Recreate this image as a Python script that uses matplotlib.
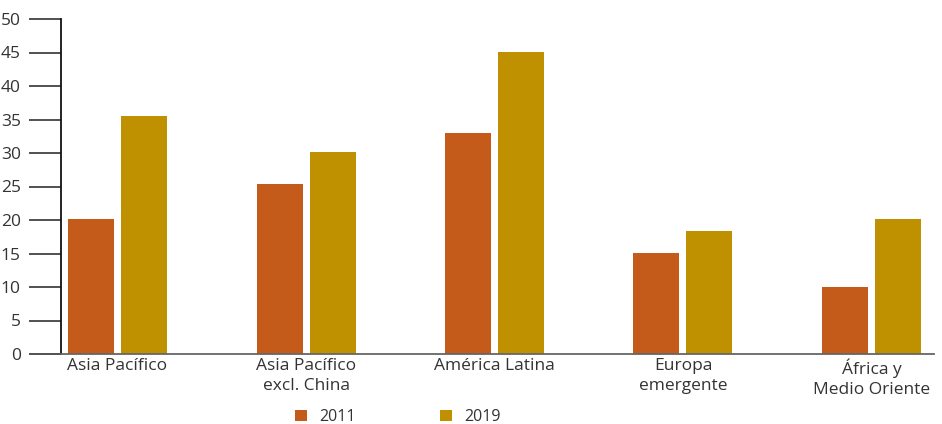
import matplotlib
matplotlib.use("Agg")
import matplotlib.pyplot as plt
import numpy as np

plt.rcParams['font.family'] = ['Open Sans', 'DejaVu Sans']

regions = ["Asia Pacífico", "Asia Pacífico\nexcl. China", "América Latina",
           "Europa\nemergente", "África y\nMedio Oriente"]
values_2011 = [20.1, 25.4, 33.0, 15.1, 10.0]
values_2019 = [35.5, 30.1, 45.1, 18.4, 20.1]
series_labels = ["2011", "2019"]
y_ticks = [0, 5, 10, 15, 20, 25, 30, 35, 40, 45, 50]

color_2011 = "#C55B1B"
color_2019 = "#BF9100"
text_color = "#333333"

fig = plt.figure(figsize=(9.42, 4.24), dpi=100)
ax = fig.add_axes([61 / 942, 1 - 354 / 424, (934 - 61) / 942, (354 - 19) / 424])

x = np.arange(len(regions))
width = 0.244
offset = 0.1406
b1 = ax.bar(x - offset, values_2011, width, color=color_2011, label=series_labels[0])
b2 = ax.bar(x + offset, values_2019, width, color=color_2019, label=series_labels[1])

ax.set_xlim(-0.30, 4.332)
ax.set_ylim(0, 50)
ax.set_yticks(y_ticks)
ax.set_yticklabels([str(t) for t in y_ticks], fontsize=12.5, color=text_color)
ax.tick_params(axis='y', length=23, width=1.1, color="#222222", pad=6)
ax.set_xticks(x)
ax.set_xticklabels(regions, fontsize=12.5, color=text_color, linespacing=1.35)
ax.tick_params(axis='x', length=0, pad=3)

for side in ("top", "right"):
    ax.spines[side].set_visible(False)
ax.spines["left"].set_color("#111111")
ax.spines["left"].set_linewidth(1.3)
ax.spines["bottom"].set_color("#666666")
ax.spines["bottom"].set_linewidth(1.3)

fig.legend(handles=[b1, b2], labels=series_labels, loc="center",
           bbox_to_anchor=(398 / 942, 1 - 417 / 424), ncol=2, frameon=False,
           fontsize=11.5, handlelength=0.75, handleheight=0.75,
           handletextpad=0.75, columnspacing=5.3, labelcolor=text_color)

fig.savefig("out.png", dpi=100)
